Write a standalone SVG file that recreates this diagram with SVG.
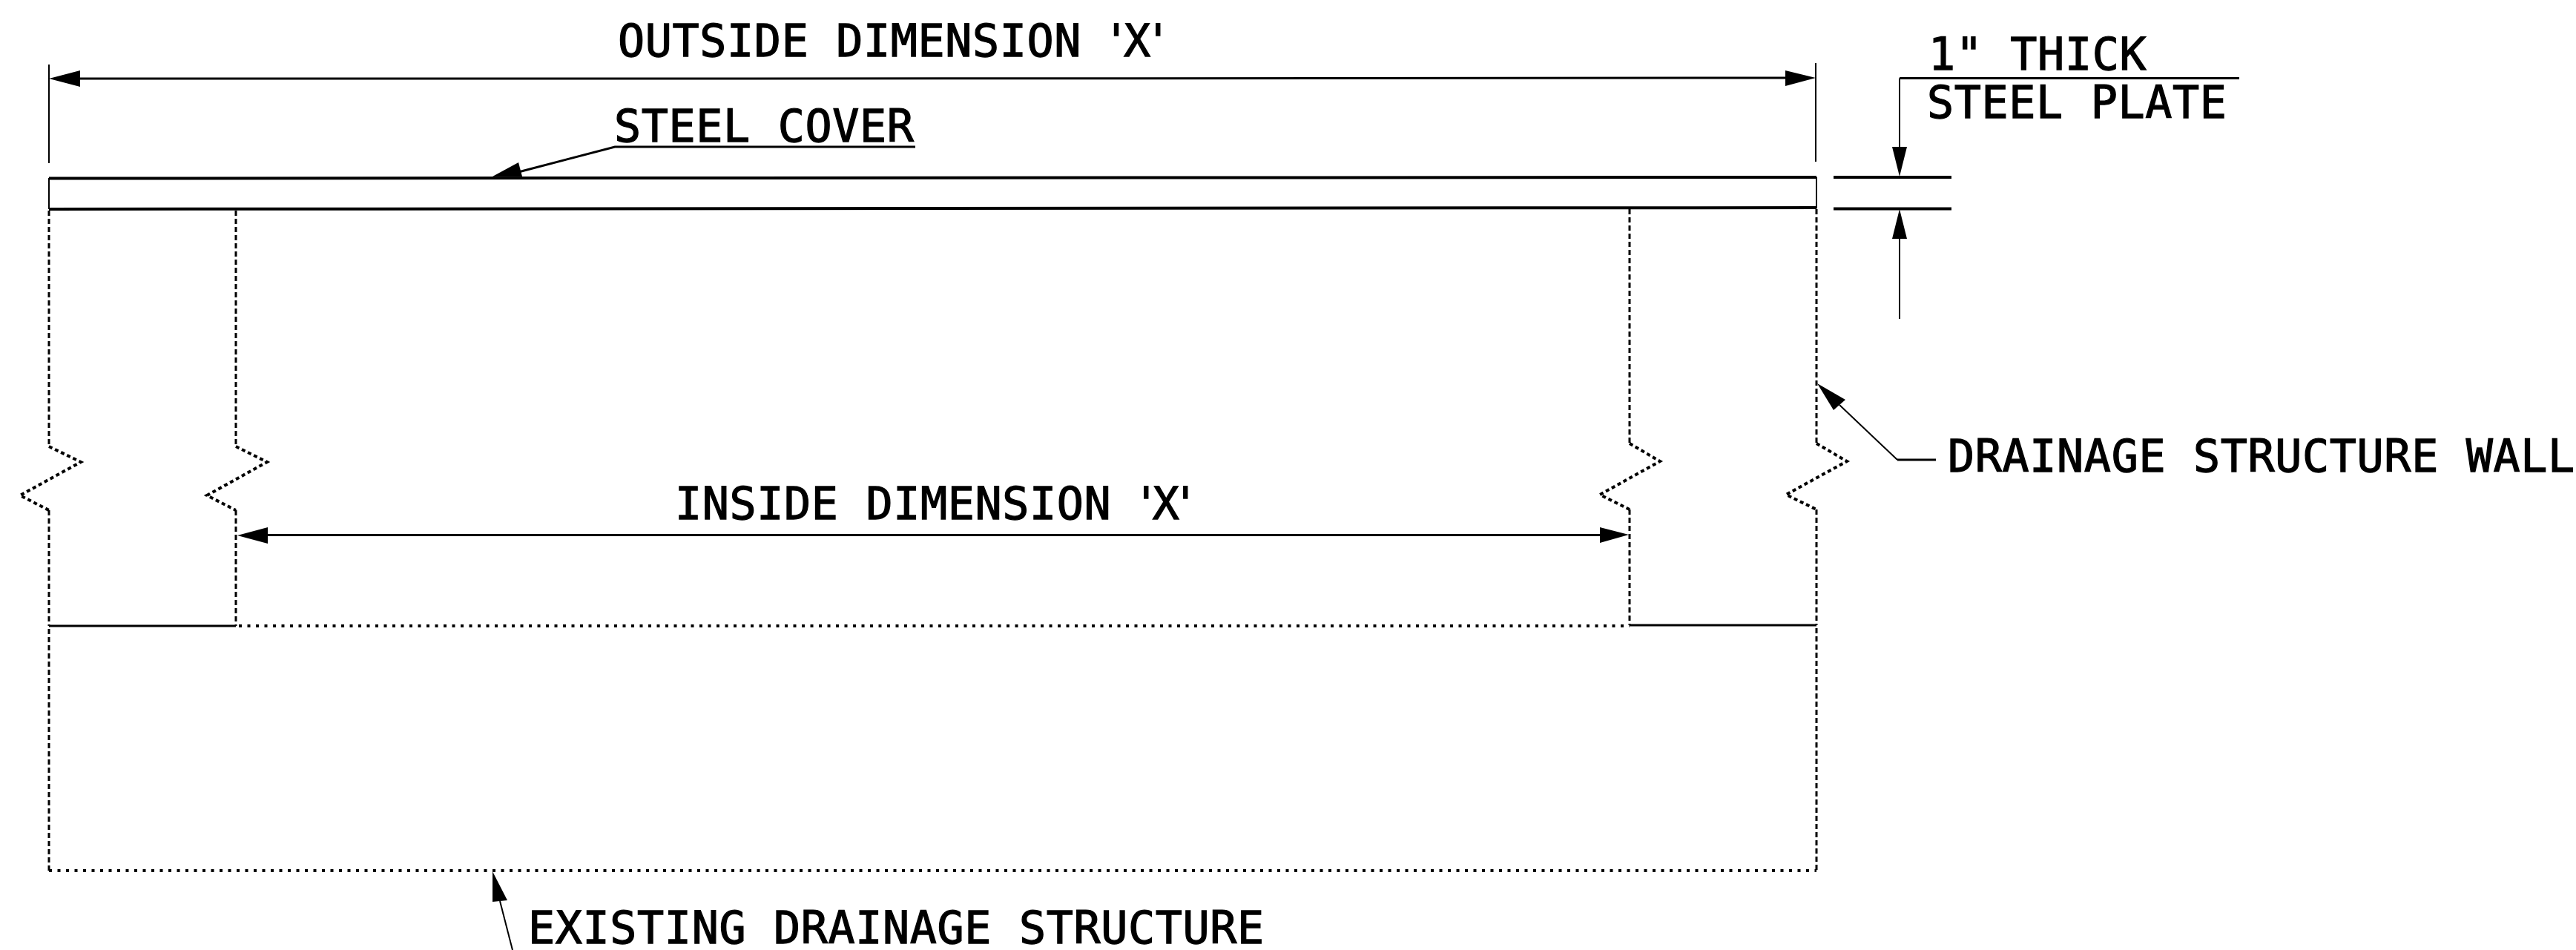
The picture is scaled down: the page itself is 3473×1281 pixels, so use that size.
<svg xmlns="http://www.w3.org/2000/svg" width="3473" height="1281" viewBox="0 0 3473 1281">
<style>
text{font-family:"DejaVu Sans Mono","Liberation Mono",monospace;font-size:60px;fill:#000;stroke:#000;stroke-width:1.3;letter-spacing:.65px}
.ob{font-style:italic}
.q1{letter-spacing:-8px}
.q2{letter-spacing:-9.600px}
.thin{fill:none;stroke:#000;stroke-width:2}
.med{fill:none;stroke:#000;stroke-width:3}
.thick{fill:none;stroke:#000;stroke-width:4}
.dash{fill:none;stroke:#000;stroke-width:3;stroke-dasharray:7 4}
.dot{fill:none;stroke:#000;stroke-width:4;stroke-dasharray:4 7.500}
.zig{fill:none;stroke:#000;stroke-width:4;stroke-dasharray:5 4}
.head{fill:#000;stroke:none}
</style>
<rect width="3473" height="1281" fill="#fff"/>
<g id="steel-cover">
<path class="thick" d="M66 240.500L2449 239M66 282L2449 280"/>
<path class="thin" d="M66 240V282M2449 239V281"/>
</g>
<g id="left-wall">
<path class="dash" d="M66 284V602"/>
<path class="zig" d="M66 602L109 623L27 668L66 688"/>
<path class="dash" d="M66 688V844"/>
<path class="dash" d="M318 284V602"/>
<path class="zig" d="M318 602L360 623L279 668L318 688"/>
<path class="dash" d="M318 688V844"/>
<path class="med" d="M66 844H318"/>
</g>
<g id="right-wall">
<path class="dash" d="M2197 282V598"/>
<path class="zig" d="M2197 598L2238 622L2157 667L2197 687"/>
<path class="dash" d="M2197 687V843"/>
<path class="dash" d="M2449 282V598"/>
<path class="zig" d="M2449 598L2490 622L2408 667L2449 687"/>
<path class="dash" d="M2449 687V843"/>
<path class="med" d="M2197 843H2449"/>
</g>
<g id="existing-structure">
<path class="dot" d="M322 844H2197"/>
<path class="dash" d="M66 848V1174"/>
<path class="dash" d="M2449 847V1174"/>
<path class="dot" d="M66 1174H2449"/>
</g>
<g id="connectors">
<path class="thin" d="M66 87V220M2448 85V218"/>
<path class="med" d="M108 106H1000L2407 105"/>
<path class="head" d="M66 106L108 95V117ZM2448 105L2407 95V116Z"/>
<path class="med" d="M1234 198H829L699 232"/>
<path class="head" d="M664 238L699 219L704 238Z"/>
<path class="med" d="M3019 105.500H2561"/>
<path class="thin" d="M2561 105.500V200M2561 320V430"/>
<path class="head" d="M2561 238L2551 198H2571ZM2561 282L2551 322H2571Z"/>
<path class="thick" d="M2472 239H2631M2472 281.500H2631"/>
<path class="med" d="M360 721.500H2157"/>
<path class="head" d="M320 722L361 711V733ZM2196 721L2157 711V732Z"/>
<path class="thin" d="M2480 546L2558 620"/>
<path class="med" d="M2558 620H2610"/>
<path class="head" d="M2450 517L2488 539L2472 553Z"/>
<path class="thin" d="M691 1281L674 1215"/>
<path class="head" d="M664 1175L684 1214L664 1216Z"/>
</g>
<g id="labels">
<text id="label-outside" x="833" y="76">OUTSIDE DIMENSION <tspan dx="-8" class="q1">'X'</tspan></text>
<text id="label-cover" x="828" y="191">STEEL COVER</text>
<text id="label-thick" x="2600" y="94">1<tspan class="ob">"</tspan> THICK</text>
<text id="label-plate" x="2598" y="159">STEEL PLATE</text>
<text id="label-wall" x="2626" y="636">DRAINAGE STRUCTURE WALL</text>
<text id="label-inside" x="910" y="700">INSIDE DIMENSION <tspan dx="-8" class="q2">'X'</tspan></text>
<text id="label-existing" x="712" y="1272">EXISTING DRAINAGE STRUCTURE</text>
</g>
</svg>
